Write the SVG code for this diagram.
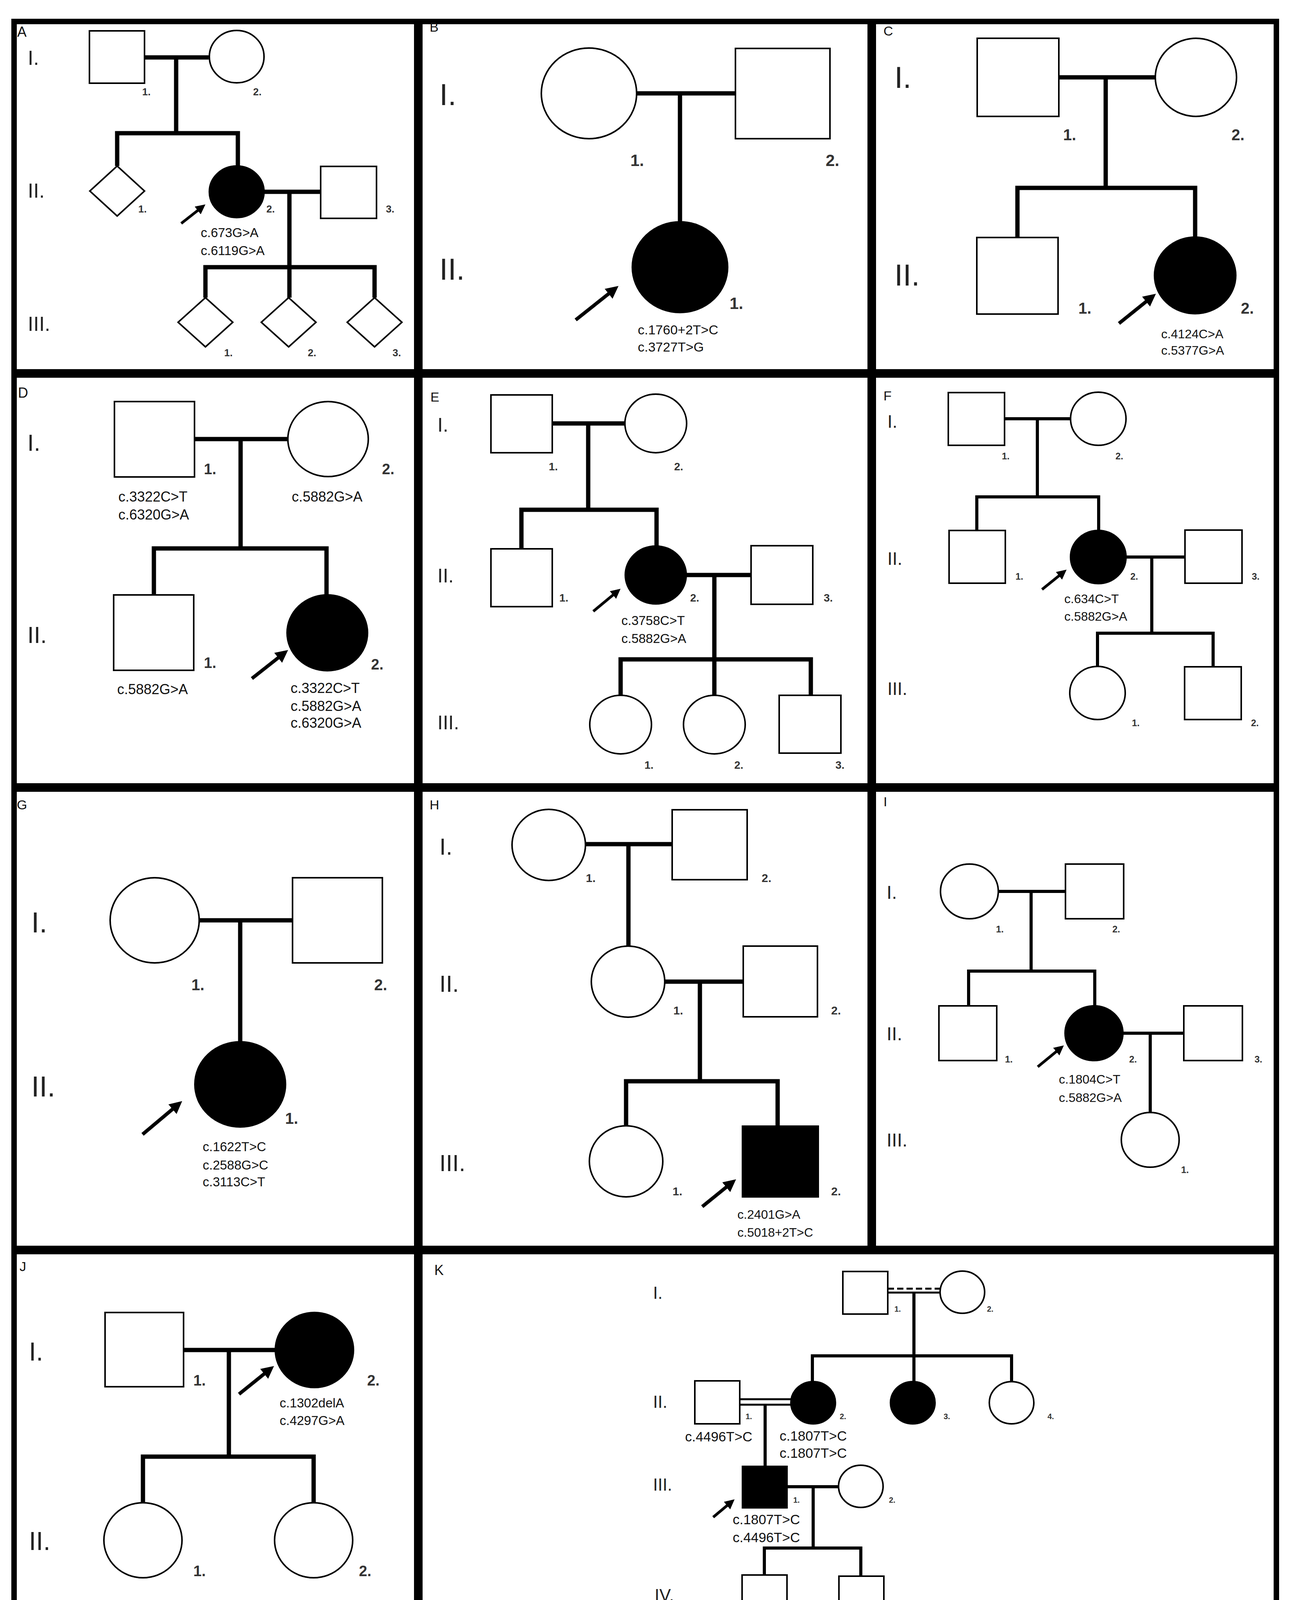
<svg xmlns="http://www.w3.org/2000/svg" width="3308" height="4236" viewBox="0 0 3308 4236">
<style>
text{font-family:"Liberation Sans",Arial,sans-serif;fill:#111}
.num{fill:#333;font-weight:bold}
.gen{fill:#222}
.s{fill:#fff;stroke:#000;stroke-width:4}
.f{fill:#000;stroke:#000;stroke-width:4}
.ln{stroke:#000;stroke-width:11;fill:none}
.lt{stroke:#000;stroke-width:8;fill:none}
.arr{stroke:#000;stroke-width:9;fill:none;marker-end:url(#ah)}
.arrs{stroke:#000;stroke-width:7;fill:none;marker-end:url(#ah)}
.bd{stroke:#000;fill:none}
</style>
<defs>
<marker id="ah" viewBox="0 0 10 10" refX="7" refY="5" markerWidth="3.6" markerHeight="3.6" orient="auto"><path d="M0,0 L10,5 L0,10 z" fill="#000"/></marker>
</defs>
<rect width="3308" height="4236" fill="#fff"/>
<g id="borders">
<rect class="bd" x="36" y="55" width="3232" height="4130" stroke-width="14"/>
<line class="bd" x1="36" y1="956" x2="3268" y2="956" stroke-width="22"/>
<line class="bd" x1="36" y1="2016" x2="3268" y2="2016" stroke-width="22"/>
<line class="bd" x1="36" y1="3200" x2="3268" y2="3200" stroke-width="22"/>
<line class="bd" x1="1071" y1="55" x2="1071" y2="4185" stroke-width="22"/>
<line class="bd" x1="2232" y1="55" x2="2232" y2="3200" stroke-width="22"/>
</g>
<g id="connectors">
<!-- A -->
<polyline class="ln" points="370,147 534,147"/><polyline class="ln" points="451,147 451,341"/>
<polyline class="ln" points="300,425 300,341 609,341 609,425"/>
<polyline class="ln" points="675,491 821,491"/><polyline class="ln" points="741,491 741,684"/>
<polyline class="ln" points="526,762 526,684 959,684 959,762"/><polyline class="ln" points="741,684 741,762"/>
<line class="arrs" x1="464" y1="572" x2="520" y2="528"/>
<!-- B -->
<polyline class="ln" points="1630,239 1883,239"/><polyline class="ln" points="1741,239 1741,570"/>
<line class="arr" x1="1474" y1="819" x2="1576" y2="738"/>
<!-- C -->
<polyline class="ln" points="2711,198 2958,198"/><polyline class="ln" points="2831,198 2831,481"/>
<polyline class="ln" points="2605,608 2605,481 3060,481 3060,607"/>
<line class="arr" x1="2865" y1="828" x2="2952" y2="758"/>
<!-- D -->
<polyline class="ln" points="498,1124 737,1124"/><polyline class="ln" points="616,1124 616,1404"/>
<polyline class="ln" points="394,1523 394,1404 836,1404 836,1523"/>
<line class="arr" x1="645" y1="1737" x2="730" y2="1670"/>
<!-- E -->
<polyline class="ln" points="1414,1084 1600,1084"/><polyline class="ln" points="1506,1084 1506,1305"/>
<polyline class="ln" points="1335,1405 1335,1305 1681,1305 1681,1398"/>
<polyline class="ln" points="1756,1472 1923,1472"/><polyline class="ln" points="1829,1472 1829,1780"/>
<polyline class="ln" points="1589,1780 1589,1688 2076,1688 2076,1780"/>
<line class="arrs" x1="1519" y1="1565" x2="1583" y2="1512"/>
<!-- F -->
<polyline class="lt" points="2572,1072 2741,1072"/><polyline class="lt" points="2656,1072 2656,1272"/>
<polyline class="lt" points="2501,1358 2501,1272 2813,1272 2813,1358"/>
<polyline class="lt" points="2883,1426 3034,1426"/><polyline class="lt" points="2949,1426 2949,1621"/>
<polyline class="lt" points="2810,1707 2810,1621 3106,1621 3106,1707"/>
<line class="arrs" x1="2668" y1="1509" x2="2725" y2="1463"/>
<!-- G -->
<polyline class="ln" points="510,2356 749,2356"/><polyline class="ln" points="615,2356 615,2667"/>
<line class="arr" x1="365" y1="2904" x2="459" y2="2825"/>
<!-- H -->
<polyline class="ln" points="1499,2161 1721,2161"/><polyline class="ln" points="1609,2161 1609,2422"/>
<polyline class="ln" points="1702,2513 1903,2513"/><polyline class="ln" points="1792,2513 1792,2768"/>
<polyline class="ln" points="1603,2882 1603,2768 1991,2768 1991,2883"/>
<line class="arr" x1="1798" y1="3089" x2="1877" y2="3025"/>
<!-- I -->
<polyline class="lt" points="2556,2282 2728,2282"/><polyline class="lt" points="2640,2282 2640,2486"/>
<polyline class="lt" points="2480,2575 2480,2486 2803,2486 2803,2575"/>
<polyline class="lt" points="2875,2645 3031,2645"/><polyline class="lt" points="2945,2645 2945,2848"/>
<line class="arrs" x1="2657" y1="2731" x2="2718" y2="2681"/>
<!-- J -->
<polyline class="ln" points="470,3456 705,3456"/><polyline class="ln" points="586,3456 586,3729"/>
<polyline class="ln" points="366,3848 366,3729 803,3729 803,3848"/>
<line class="arr" x1="612" y1="3569" x2="694" y2="3503"/>
<!-- K -->
<line x1="2273" y1="3299" x2="2407" y2="3299" stroke="#000" stroke-width="5" stroke-dasharray="16,8"/>
<line x1="2273" y1="3309" x2="2407" y2="3309" stroke="#000" stroke-width="5"/>
<polyline class="lt" points="2340,3309 2340,3537"/>
<polyline class="lt" points="2080,3537 2080,3471 2590,3471 2590,3537"/>
<line x1="1894" y1="3582" x2="2025" y2="3582" stroke="#000" stroke-width="5"/>
<line x1="1894" y1="3596" x2="2025" y2="3596" stroke="#000" stroke-width="5"/>
<polyline class="lt" points="1959,3596 1959,3754"/>
<polyline class="lt" points="2015,3806 2147,3806"/><polyline class="lt" points="2082,3806 2082,3963"/>
<polyline class="lt" points="1957,4032 1957,3963 2204,3963 2204,4035"/>
<line class="arrs" x1="1826" y1="3884" x2="1875" y2="3843" stroke-width="6"/>
</g>
<g id="panelA">
<text x="44" y="94" font-size="36">A</text>
<text class="gen" x="71" y="166" font-size="52">I.</text>
<text class="gen" x="71" y="506" font-size="52">II.</text>
<text class="gen" x="71" y="847" font-size="52">III.</text>
<g id="A-I1"><rect class="s" x="229" y="79" width="141" height="134"/><text class="num" x="364" y="244" font-size="26">1.</text></g>
<g id="A-I2"><ellipse class="s" cx="606" cy="145" rx="70" ry="67"/><text class="num" x="648" y="244" font-size="26">2.</text></g>
<g id="A-II1"><polygon class="s" points="300,425 370,489 300,553 230,489"/><text class="num" x="354" y="544" font-size="26">1.</text></g>
<g id="A-II2"><ellipse class="f" cx="606" cy="491" rx="70" ry="66"/><text class="num" x="682" y="544" font-size="26">2.</text>
<text x="514" y="607" font-size="33">c.673G&gt;A</text><text x="514" y="653" font-size="33">c.6119G&gt;A</text></g>
<g id="A-II3"><rect class="s" x="821" y="426" width="143" height="133"/><text class="num" x="988" y="544" font-size="26">3.</text></g>
<g id="A-III1"><polygon class="s" points="526,762 596,825 526,888 456,825"/><text class="num" x="574" y="912" font-size="26">1.</text></g>
<g id="A-III2"><polygon class="s" points="739,762 809,825 739,888 669,825"/><text class="num" x="788" y="912" font-size="26">2.</text></g>
<g id="A-III3"><polygon class="s" points="959,762 1029,825 959,888 889,825"/><text class="num" x="1005" y="912" font-size="26">3.</text></g>
</g>
<g id="panelB">
<text x="1100" y="81" font-size="34">B</text>
<text class="gen" x="1125" y="269" font-size="78">I.</text>
<text class="gen" x="1125" y="716" font-size="78">II.</text>
<g id="B-I1"><ellipse class="s" cx="1508" cy="239" rx="122" ry="116"/><text class="num" x="1614" y="425" font-size="42">1.</text></g>
<g id="B-I2"><rect class="s" x="1883" y="124" width="242" height="231"/><text class="num" x="2114" y="425" font-size="42">2.</text></g>
<g id="B-II1"><ellipse class="f" cx="1741" cy="684" rx="122" ry="116"/><text class="num" x="1868" y="791" font-size="42">1.</text>
<text x="1633" y="856" font-size="34">c.1760+2T&gt;C</text><text x="1633" y="900" font-size="34">c.3727T&gt;G</text></g>
</g>
<g id="panelC">
<text x="2262" y="91" font-size="34">C</text>
<text class="gen" x="2290" y="225" font-size="78">I.</text>
<text class="gen" x="2290" y="731" font-size="78">II.</text>
<g id="C-I1"><rect class="s" x="2502" y="98" width="209" height="200"/><text class="num" x="2722" y="359" font-size="40">1.</text></g>
<g id="C-I2"><ellipse class="s" cx="3062" cy="198" rx="104" ry="100"/><text class="num" x="3153" y="359" font-size="40">2.</text></g>
<g id="C-II1"><rect class="s" x="2501" y="608" width="208" height="196"/><text class="num" x="2761" y="803" font-size="40">1.</text></g>
<g id="C-II2"><ellipse class="f" cx="3060" cy="705" rx="104" ry="98"/><text class="num" x="3177" y="803" font-size="40">2.</text>
<text x="2973" y="866" font-size="32">c.4124C&gt;A</text><text x="2973" y="908" font-size="32">c.5377G&gt;A</text></g>
</g>
<g id="panelD">
<text x="46" y="1018" font-size="36">D</text>
<text class="gen" x="70" y="1154" font-size="60">I.</text>
<text class="gen" x="70" y="1646" font-size="60">II.</text>
<g id="D-I1"><rect class="s" x="293" y="1028" width="205" height="193"/><text class="num" x="522" y="1214" font-size="38">1.</text>
<text x="303" y="1284" font-size="36">c.3322C&gt;T</text><text x="303" y="1330" font-size="36">c.6320G&gt;A</text></g>
<g id="D-I2"><ellipse class="s" cx="840" cy="1124" rx="103" ry="96"/><text class="num" x="978" y="1214" font-size="38">2.</text>
<text x="747" y="1284" font-size="36">c.5882G&gt;A</text></g>
<g id="D-II1"><rect class="s" x="291" y="1523" width="205" height="193"/><text class="num" x="522" y="1710" font-size="38">1.</text>
<text x="300" y="1777" font-size="36">c.5882G&gt;A</text></g>
<g id="D-II2"><ellipse class="f" cx="838" cy="1620" rx="103" ry="97"/><text class="num" x="950" y="1714" font-size="38">2.</text>
<text x="744" y="1774" font-size="36">c.3322C&gt;T</text><text x="744" y="1820" font-size="36">c.5882G&gt;A</text><text x="744" y="1863" font-size="36">c.6320G&gt;A</text></g>
</g>
<g id="panelE">
<text x="1102" y="1028" font-size="34">E</text>
<text class="gen" x="1120" y="1105" font-size="50">I.</text>
<text class="gen" x="1120" y="1491" font-size="50">II.</text>
<text class="gen" x="1120" y="1867" font-size="50">III.</text>
<g id="E-I1"><rect class="s" x="1257" y="1011" width="157" height="148"/><text class="num" x="1405" y="1204" font-size="28">1.</text></g>
<g id="E-I2"><ellipse class="s" cx="1679" cy="1084" rx="79" ry="75"/><text class="num" x="1726" y="1204" font-size="28">2.</text></g>
<g id="E-II1"><rect class="s" x="1257" y="1405" width="157" height="148"/><text class="num" x="1432" y="1540" font-size="28">1.</text></g>
<g id="E-II2"><ellipse class="f" cx="1679" cy="1472" rx="78" ry="74"/><text class="num" x="1767" y="1540" font-size="28">2.</text>
<text x="1591" y="1600" font-size="33">c.3758C&gt;T</text><text x="1591" y="1646" font-size="33">c.5882G&gt;A</text></g>
<g id="E-II3"><rect class="s" x="1923" y="1397" width="158" height="150"/><text class="num" x="2109" y="1540" font-size="28">3.</text></g>
<g id="E-III1"><ellipse class="s" cx="1589" cy="1855" rx="79" ry="75"/><text class="num" x="1650" y="1968" font-size="28">1.</text></g>
<g id="E-III2"><ellipse class="s" cx="1829" cy="1855" rx="79" ry="75"/><text class="num" x="1880" y="1968" font-size="28">2.</text></g>
<g id="E-III3"><rect class="s" x="1995" y="1780" width="158" height="148"/><text class="num" x="2139" y="1968" font-size="28">3.</text></g>
</g>
<g id="panelF">
<text x="2262" y="1025" font-size="34">F</text>
<text class="gen" x="2272" y="1095" font-size="46">I.</text>
<text class="gen" x="2272" y="1446" font-size="46">II.</text>
<text class="gen" x="2272" y="1779" font-size="46">III.</text>
<g id="F-I1"><rect class="s" x="2428" y="1005" width="144" height="135"/><text class="num" x="2565" y="1176" font-size="24">1.</text></g>
<g id="F-I2"><ellipse class="s" cx="2812" cy="1072" rx="71" ry="68"/><text class="num" x="2856" y="1176" font-size="24">2.</text></g>
<g id="F-II1"><rect class="s" x="2430" y="1358" width="144" height="135"/><text class="num" x="2600" y="1484" font-size="24">1.</text></g>
<g id="F-II2"><ellipse class="f" cx="2812" cy="1426" rx="71" ry="68"/><text class="num" x="2894" y="1484" font-size="24">2.</text>
<text x="2725" y="1544" font-size="32">c.634C&gt;T</text><text x="2725" y="1589" font-size="32">c.5882G&gt;A</text></g>
<g id="F-II3"><rect class="s" x="3034" y="1357" width="146" height="136"/><text class="num" x="3205" y="1484" font-size="24">3.</text></g>
<g id="F-III1"><ellipse class="s" cx="2810" cy="1774" rx="71" ry="68"/><text class="num" x="2898" y="1859" font-size="24">1.</text></g>
<g id="F-III2"><rect class="s" x="3033" y="1707" width="145" height="135"/><text class="num" x="3203" y="1859" font-size="24">2.</text></g>
</g>
<g id="panelG">
<text x="43" y="2072" font-size="34">G</text>
<text class="gen" x="80" y="2387" font-size="74">I.</text>
<text class="gen" x="80" y="2807" font-size="74">II.</text>
<g id="G-I1"><ellipse class="s" cx="396" cy="2356" rx="114" ry="109"/><text class="num" x="490" y="2535" font-size="40">1.</text></g>
<g id="G-I2"><rect class="s" x="749" y="2247" width="230" height="218"/><text class="num" x="958" y="2535" font-size="40">2.</text></g>
<g id="G-II1"><ellipse class="f" cx="615" cy="2776" rx="116" ry="109"/><text class="num" x="730" y="2877" font-size="40">1.</text>
<text x="519" y="2947" font-size="33">c.1622T&gt;C</text><text x="519" y="2994" font-size="33">c.2588G&gt;C</text><text x="519" y="3037" font-size="33">c.3113C&gt;T</text></g>
</g>
<g id="panelH">
<text x="1100" y="2072" font-size="34">H</text>
<text class="gen" x="1125" y="2188" font-size="60">I.</text>
<text class="gen" x="1125" y="2539" font-size="60">II.</text>
<text class="gen" x="1125" y="2998" font-size="60">III.</text>
<g id="H-I1"><ellipse class="s" cx="1405" cy="2163" rx="94" ry="91"/><text class="num" x="1500" y="2258" font-size="30">1.</text></g>
<g id="H-I2"><rect class="s" x="1721" y="2073" width="192" height="179"/><text class="num" x="1950" y="2258" font-size="30">2.</text></g>
<g id="H-II1"><ellipse class="s" cx="1608" cy="2513" rx="94" ry="91"/><text class="num" x="1724" y="2597" font-size="30">1.</text></g>
<g id="H-II2"><rect class="s" x="1903" y="2422" width="190" height="181"/><text class="num" x="2128" y="2597" font-size="30">2.</text></g>
<g id="H-III1"><ellipse class="s" cx="1603" cy="2973" rx="94" ry="91"/><text class="num" x="1722" y="3060" font-size="30">1.</text></g>
<g id="H-III2"><rect class="f" x="1901" y="2883" width="194" height="181"/><text class="num" x="2128" y="3060" font-size="30">2.</text>
<text x="1888" y="3120" font-size="32">c.2401G&gt;A</text><text x="1888" y="3166" font-size="32">c.5018+2T&gt;C</text></g>
</g>
<g id="panelI">
<text x="2262" y="2064" font-size="34">I</text>
<text class="gen" x="2270" y="2301" font-size="48">I.</text>
<text class="gen" x="2270" y="2663" font-size="48">II.</text>
<text class="gen" x="2270" y="2935" font-size="48">III.</text>
<g id="I-I1"><ellipse class="s" cx="2482" cy="2282" rx="74" ry="70"/><text class="num" x="2550" y="2387" font-size="24">1.</text></g>
<g id="I-I2"><rect class="s" x="2728" y="2212" width="149" height="140"/><text class="num" x="2848" y="2387" font-size="24">2.</text></g>
<g id="I-II1"><rect class="s" x="2404" y="2575" width="148" height="140"/><text class="num" x="2573" y="2720" font-size="24">1.</text></g>
<g id="I-II2"><ellipse class="f" cx="2801" cy="2645" rx="74" ry="70"/><text class="num" x="2891" y="2720" font-size="24">2.</text>
<text x="2711" y="2774" font-size="32">c.1804C&gt;T</text><text x="2711" y="2821" font-size="32">c.5882G&gt;A</text></g>
<g id="I-II3"><rect class="s" x="3031" y="2575" width="150" height="140"/><text class="num" x="3212" y="2720" font-size="24">3.</text></g>
<g id="I-III1"><ellipse class="s" cx="2945" cy="2918" rx="74" ry="70"/><text class="num" x="3024" y="3003" font-size="24">1.</text></g>
</g>
<g id="panelJ">
<text x="50" y="3254" font-size="34">J</text>
<text class="gen" x="74" y="3483" font-size="66">I.</text>
<text class="gen" x="74" y="3968" font-size="66">II.</text>
<g id="J-I1"><rect class="s" x="269" y="3360" width="201" height="190"/><text class="num" x="495" y="3547" font-size="38">1.</text></g>
<g id="J-I2"><ellipse class="f" cx="805" cy="3456" rx="100" ry="96"/><text class="num" x="940" y="3547" font-size="38">2.</text>
<text x="716" y="3603" font-size="33">c.1302delA</text><text x="716" y="3648" font-size="33">c.4297G&gt;A</text></g>
<g id="J-II1"><ellipse class="s" cx="366" cy="3943" rx="100" ry="96"/><text class="num" x="495" y="4035" font-size="38">1.</text></g>
<g id="J-II2"><ellipse class="s" cx="803" cy="3943" rx="100" ry="96"/><text class="num" x="919" y="4035" font-size="38">2.</text></g>
</g>
<g id="panelK">
<text x="1112" y="3264" font-size="36">K</text>
<text class="gen" x="1672" y="3325" font-size="44">I.</text>
<text class="gen" x="1672" y="3604" font-size="44">II.</text>
<text class="gen" x="1672" y="3816" font-size="44">III.</text>
<text class="gen" x="1676" y="4099" font-size="44">IV.</text>
<g id="K-I1"><rect class="s" x="2158" y="3255" width="115" height="109" stroke-width="3"/><text class="num" x="2290" y="3358" font-size="20">1.</text></g>
<g id="K-I2"><ellipse class="s" cx="2464" cy="3308" rx="57" ry="54" stroke-width="3"/><text class="num" x="2527" y="3358" font-size="20">2.</text></g>
<g id="K-II1"><rect class="s" x="1779" y="3535" width="115" height="110" stroke-width="3"/><text class="num" x="1909" y="3633" font-size="20">1.</text>
<text x="1754" y="3690" font-size="35">c.4496T&gt;C</text></g>
<g id="K-II2"><ellipse class="f" cx="2082" cy="3591" rx="57" ry="54"/><text class="num" x="2150" y="3633" font-size="20">2.</text>
<text x="1996" y="3688" font-size="35">c.1807T&gt;C</text><text x="1996" y="3732" font-size="35">c.1807T&gt;C</text></g>
<g id="K-II3"><ellipse class="f" cx="2337" cy="3591" rx="57" ry="54"/><text class="num" x="2416" y="3633" font-size="20">3.</text></g>
<g id="K-II4"><ellipse class="s" cx="2590" cy="3591" rx="57" ry="54" stroke-width="3"/><text class="num" x="2682" y="3633" font-size="20">4.</text></g>
<g id="K-III1"><rect class="f" x="1901" y="3754" width="114" height="106"/><text class="num" x="2031" y="3847" font-size="20">1.</text>
<text x="1876" y="3902" font-size="35">c.1807T&gt;C</text><text x="1876" y="3948" font-size="35">c.4496T&gt;C</text></g>
<g id="K-III2"><ellipse class="s" cx="2204" cy="3805" rx="57" ry="54" stroke-width="3"/><text class="num" x="2276" y="3847" font-size="20">2.</text></g>
<g id="K-IV1"><rect class="s" x="1900" y="4032" width="115" height="108" stroke-width="3"/><text class="num" x="2035" y="4126" font-size="20">1.</text></g>
<g id="K-IV2"><rect class="s" x="2148" y="4035" width="115" height="108" stroke-width="3"/><text class="num" x="2281" y="4126" font-size="20">2.</text></g>
</g>
</svg>
